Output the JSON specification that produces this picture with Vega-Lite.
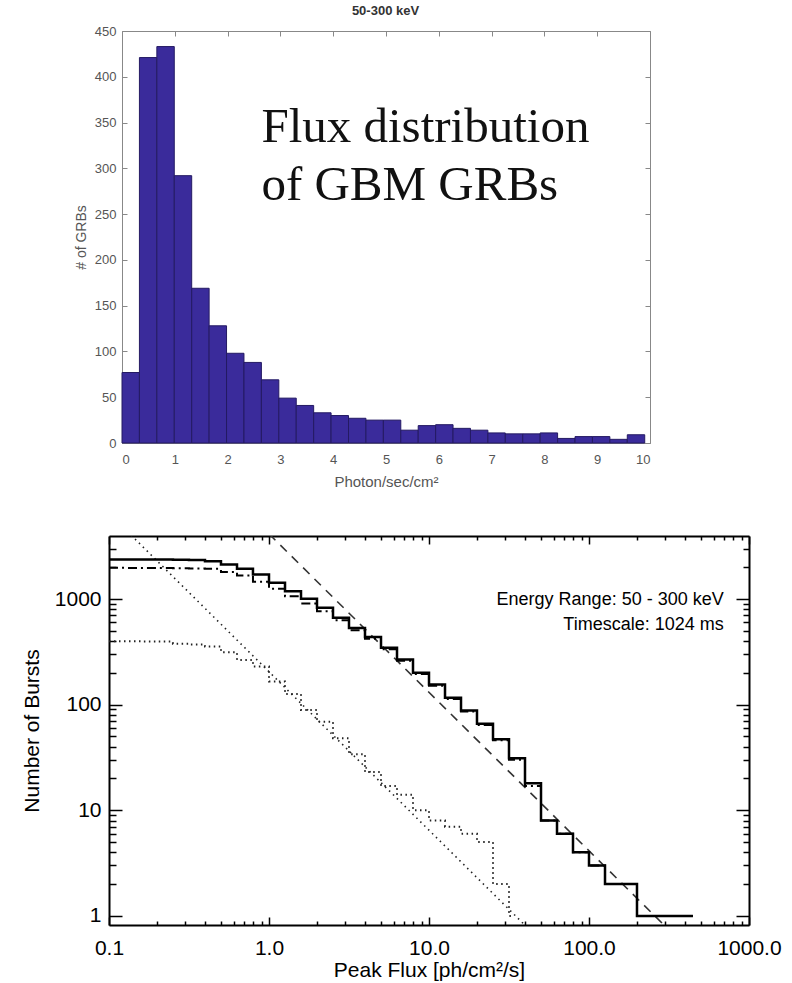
{
  "$schema": "https://vega.github.io/schema/vega-lite/v6.json",
  "padding": {"left": 21, "top": 5, "right": 5, "bottom": 5},
  "config": {"view": {"stroke": null}, "font": "Liberation Sans", "axis": {"grid": false}},
  "spacing": 46,
  "vconcat": [
    {
      "width": 541,
      "height": 412,
      "title": {"text": "50-300 keV", "font": "Liberation Sans", "fontSize": 13, "fontWeight": "bold", "color": "#333333", "dx": 6, "offset": 7},
      "resolve": {"axis": {"x": "independent", "y": "independent"}},
      "layer": [
        {
          "data": {"values": [
            {"lo": 0.00, "hi": 0.33, "count": 77},
            {"lo": 0.33, "hi": 0.66, "count": 421},
            {"lo": 0.66, "hi": 0.99, "count": 433},
            {"lo": 0.99, "hi": 1.32, "count": 292},
            {"lo": 1.32, "hi": 1.65, "count": 169},
            {"lo": 1.65, "hi": 1.98, "count": 128},
            {"lo": 1.98, "hi": 2.31, "count": 98},
            {"lo": 2.31, "hi": 2.64, "count": 88},
            {"lo": 2.64, "hi": 2.97, "count": 69},
            {"lo": 2.97, "hi": 3.30, "count": 49},
            {"lo": 3.30, "hi": 3.63, "count": 41},
            {"lo": 3.63, "hi": 3.96, "count": 33},
            {"lo": 3.96, "hi": 4.29, "count": 30},
            {"lo": 4.29, "hi": 4.62, "count": 27},
            {"lo": 4.62, "hi": 4.95, "count": 25},
            {"lo": 4.95, "hi": 5.28, "count": 25},
            {"lo": 5.28, "hi": 5.61, "count": 14},
            {"lo": 5.61, "hi": 5.94, "count": 19},
            {"lo": 5.94, "hi": 6.27, "count": 20},
            {"lo": 6.27, "hi": 6.60, "count": 16},
            {"lo": 6.60, "hi": 6.93, "count": 14},
            {"lo": 6.93, "hi": 7.26, "count": 11},
            {"lo": 7.26, "hi": 7.59, "count": 10},
            {"lo": 7.59, "hi": 7.92, "count": 10},
            {"lo": 7.92, "hi": 8.25, "count": 11},
            {"lo": 8.25, "hi": 8.58, "count": 5},
            {"lo": 8.58, "hi": 8.91, "count": 7},
            {"lo": 8.91, "hi": 9.24, "count": 7},
            {"lo": 9.24, "hi": 9.57, "count": 4},
            {"lo": 9.57, "hi": 9.90, "count": 9}
          ]},
          "mark": {"type": "rect", "fill": "#3a2b9b", "stroke": "#241a63", "strokeWidth": 1},
          "encoding": {
            "x": {"field": "lo", "type": "quantitative",
              "scale": {"domain": [0, 10], "range": [13, 541], "nice": false, "zero": false},
              "axis": {"orient": "bottom", "values": [0,1,2,3,4,5,6,7,8,9,10], "tickSize": -5, "tickColor": "#888888",
                "domainColor": "#888888", "labelColor": "#555555", "labelFontSize": 13, "labelPadding": 15,
                "title": "Photon/sec/cm²", "titleFontSize": 15, "titleFontWeight": "normal", "titleColor": "#555555", "titlePadding": 8}},
            "x2": {"field": "hi"},
            "y": {"field": "count", "type": "quantitative",
              "scale": {"domain": [0, 450], "nice": false},
              "axis": {"orient": "left", "offset": -13, "values": [0,50,100,150,200,250,300,350,400,450], "tickSize": -5,
                "tickColor": "#888888", "domainColor": "#888888", "labelColor": "#555555", "labelFontSize": 13, "labelPadding": 11,
                "title": "# of GRBs", "titleFontSize": 14, "titleFontWeight": "normal", "titleColor": "#555555", "titlePadding": 6}},
            "y2": {"datum": 0}
          }
        },
        {
          "data": {"values": [
            {"x": 2.64, "y": 329, "t": "Flux distribution"},
            {"x": 2.64, "y": 265.5, "t": "of GBM GRBs"}
          ]},
          "mark": {"type": "text", "align": "left", "baseline": "alphabetic", "font": "Liberation Serif", "fontSize": 49, "color": "#111111"},
          "encoding": {
            "x": {"field": "x", "type": "quantitative",
              "scale": {"domain": [0, 10], "range": [13, 541], "nice": false, "zero": false},
              "axis": {"orient": "top", "values": [0,1,2,3,4,5,6,7,8,9,10], "labels": false, "tickSize": -5,
                "tickColor": "#888888", "domainColor": "#888888", "title": null}},
            "y": {"field": "y", "type": "quantitative",
              "scale": {"domain": [0, 450], "nice": false},
              "axis": {"orient": "right", "values": [0,50,100,150,200,250,300,350,400,450], "labels": false, "tickSize": -5,
                "tickColor": "#888888", "domainColor": "#888888", "title": null}},
            "text": {"field": "t"}
          }
        }
      ]
    },
    {
      "width": 640,
      "height": 389,
      "resolve": {"axis": {"x": "independent", "y": "independent"}},
      "layer": [
        {
          "data": {"values": [{"flux": 0.13, "n": 4373}, {"flux": 40, "n": 0.81}]},
          "mark": {"type": "line", "clip": true, "color": "#222222", "strokeWidth": 1.6, "strokeDash": [1.5, 4]},
          "encoding": {
            "x": {"field": "flux", "type": "quantitative", "scale": {"type": "log", "domain": [0.1, 1000], "nice": false}, "axis": null},
            "y": {"field": "n", "type": "quantitative", "scale": {"type": "log", "domain": [0.82, 3950], "nice": false}, "axis": null}
          }
        },
        {
          "data": {"values": [
            {"flux": 0.1, "n": 398}, {"flux": 0.126, "n": 398}, {"flux": 0.158, "n": 397}, {"flux": 0.2, "n": 396},
            {"flux": 0.251, "n": 378}, {"flux": 0.316, "n": 372}, {"flux": 0.398, "n": 355}, {"flux": 0.501, "n": 314},
            {"flux": 0.631, "n": 265}, {"flux": 0.794, "n": 230}, {"flux": 1.0, "n": 166}, {"flux": 1.259, "n": 126},
            {"flux": 1.585, "n": 89}, {"flux": 1.995, "n": 69}, {"flux": 2.512, "n": 48}, {"flux": 3.162, "n": 34},
            {"flux": 3.981, "n": 23}, {"flux": 5.012, "n": 17}, {"flux": 6.31, "n": 14}, {"flux": 7.943, "n": 10},
            {"flux": 10, "n": 8}, {"flux": 12.59, "n": 7}, {"flux": 15.85, "n": 6}, {"flux": 19.95, "n": 5},
            {"flux": 25.12, "n": 2}, {"flux": 31.62, "n": 1}, {"flux": 33.1, "n": 1}
          ]},
          "mark": {"type": "line", "interpolate": "step-after", "clip": true, "color": "#222222", "strokeWidth": 2, "strokeDash": [1.5, 3.5]},
          "encoding": {
            "x": {"field": "flux", "type": "quantitative", "scale": {"type": "log", "domain": [0.1, 1000], "nice": false},
              "axis": {"orient": "top", "values": [0.1, 1, 10, 100, 1000], "labels": false, "tickSize": -8, "tickWidth": 1.5,
                "tickColor": "black", "domainColor": "black", "domainWidth": 2, "title": null}},
            "y": {"field": "n", "type": "quantitative", "scale": {"type": "log", "domain": [0.82, 3950], "nice": false},
              "axis": {"orient": "right", "values": [1, 10, 100, 1000], "labels": false, "tickSize": -13, "tickWidth": 1.5,
                "tickColor": "black", "domainColor": "black", "domainWidth": 2, "title": null}}
          }
        },
        {
          "data": {"values": [{"flux": 1.0, "n": 4134}, {"flux": 300, "n": 0.7956}]},
          "mark": {"type": "line", "clip": true, "color": "#333333", "strokeWidth": 1.6, "strokeDash": [9, 7]},
          "encoding": {
            "x": {"field": "flux", "type": "quantitative", "scale": {"type": "log", "domain": [0.1, 1000], "nice": false},
              "axis": {"orient": "top", "values": [0.2,0.3,0.4,0.5,0.6,0.7,0.8,0.9,2,3,4,5,6,7,8,9,20,30,40,50,60,70,80,90,200,300,400,500,600,700,800,900],
                "labels": false, "domain": false, "tickSize": -4, "tickWidth": 1.5, "tickColor": "black", "title": null}},
            "y": {"field": "n", "type": "quantitative", "scale": {"type": "log", "domain": [0.82, 3950], "nice": false},
              "axis": {"orient": "right", "values": [2,3,4,5,6,7,8,9,20,30,40,50,60,70,80,90,200,300,400,500,600,700,800,900,2000,3000],
                "labels": false, "domain": false, "tickSize": -6, "tickWidth": 1.5, "tickColor": "black", "title": null}}
          }
        },
        {
          "data": {"values": [
            {"flux": 0.1, "n": 1972}, {"flux": 0.126, "n": 1971}, {"flux": 0.158, "n": 1970}, {"flux": 0.2, "n": 1966},
            {"flux": 0.251, "n": 1960}, {"flux": 0.316, "n": 1948}, {"flux": 0.398, "n": 1932}, {"flux": 0.501, "n": 1803},
            {"flux": 0.631, "n": 1671}, {"flux": 0.794, "n": 1455}, {"flux": 1.0, "n": 1249}, {"flux": 1.259, "n": 1064},
            {"flux": 1.585, "n": 906}, {"flux": 1.995, "n": 766}, {"flux": 2.512, "n": 629}, {"flux": 3.162, "n": 506},
            {"flux": 3.981, "n": 420}, {"flux": 5.012, "n": 335}, {"flux": 6.31, "n": 260}, {"flux": 7.943, "n": 195},
            {"flux": 10, "n": 151}, {"flux": 12.59, "n": 113}, {"flux": 15.85, "n": 86}, {"flux": 19.95, "n": 64},
            {"flux": 25.12, "n": 46}, {"flux": 31.62, "n": 30}, {"flux": 39.81, "n": 17}, {"flux": 50.12, "n": 8},
            {"flux": 63.1, "n": 6}, {"flux": 79.43, "n": 4}, {"flux": 100, "n": 3}, {"flux": 125.9, "n": 2},
            {"flux": 199.5, "n": 1}, {"flux": 446, "n": 1}
          ]},
          "mark": {"type": "line", "interpolate": "step-after", "clip": true, "color": "black", "strokeWidth": 2, "strokeDash": [9, 4, 2, 4]},
          "encoding": {
            "x": {"field": "flux", "type": "quantitative", "scale": {"type": "log", "domain": [0.1, 1000], "nice": false},
              "axis": {"orient": "bottom", "values": [0.2,0.3,0.4,0.5,0.6,0.7,0.8,0.9,2,3,4,5,6,7,8,9,20,30,40,50,60,70,80,90,200,300,400,500,600,700,800,900],
                "labels": false, "domain": false, "tickSize": -4, "tickWidth": 1.5, "tickColor": "black", "title": null}},
            "y": {"field": "n", "type": "quantitative", "scale": {"type": "log", "domain": [0.82, 3950], "nice": false},
              "axis": {"orient": "left", "values": [2,3,4,5,6,7,8,9,20,30,40,50,60,70,80,90,200,300,400,500,600,700,800,900,2000,3000],
                "labels": false, "domain": false, "tickSize": -7, "tickWidth": 1.5, "tickColor": "black", "title": null}}
          }
        },
        {
          "data": {"values": [
            {"flux": 0.1, "n": 2371}, {"flux": 0.126, "n": 2370}, {"flux": 0.158, "n": 2368}, {"flux": 0.2, "n": 2365},
            {"flux": 0.251, "n": 2358}, {"flux": 0.316, "n": 2340}, {"flux": 0.398, "n": 2282}, {"flux": 0.501, "n": 2124},
            {"flux": 0.631, "n": 1932}, {"flux": 0.794, "n": 1707}, {"flux": 1.0, "n": 1425}, {"flux": 1.259, "n": 1186},
            {"flux": 1.585, "n": 1005}, {"flux": 1.995, "n": 826}, {"flux": 2.512, "n": 664}, {"flux": 3.162, "n": 533},
            {"flux": 3.981, "n": 438}, {"flux": 5.012, "n": 345}, {"flux": 6.31, "n": 267}, {"flux": 7.943, "n": 200},
            {"flux": 10, "n": 155}, {"flux": 12.59, "n": 116}, {"flux": 15.85, "n": 88}, {"flux": 19.95, "n": 66},
            {"flux": 25.12, "n": 47}, {"flux": 31.62, "n": 31}, {"flux": 39.81, "n": 18}, {"flux": 50.12, "n": 8},
            {"flux": 63.1, "n": 6}, {"flux": 79.43, "n": 4}, {"flux": 100, "n": 3}, {"flux": 125.9, "n": 2},
            {"flux": 199.5, "n": 1}, {"flux": 446, "n": 1}
          ]},
          "mark": {"type": "line", "interpolate": "step-after", "clip": true, "color": "black", "strokeWidth": 2.5},
          "encoding": {
            "x": {"field": "flux", "type": "quantitative", "scale": {"type": "log", "domain": [0.1, 1000], "nice": false},
              "axis": {"orient": "bottom", "values": [0.1, 1, 10, 100, 1000], "format": ".1f", "tickSize": -8, "tickWidth": 1.5,
                "tickColor": "black", "domainColor": "black", "domainWidth": 2, "labelColor": "black", "labelFontSize": 21,
                "labelPadding": 20, "labelFlush": false, "labelOverlap": false,
                "title": "Peak Flux [ph/cm²/s]", "titleFontSize": 21, "titleFontWeight": "normal", "titleColor": "black", "titlePadding": 1}},
            "y": {"field": "n", "type": "quantitative", "scale": {"type": "log", "domain": [0.82, 3950], "nice": false},
              "axis": {"orient": "left", "values": [1, 10, 100, 1000], "format": "d", "tickSize": -13, "tickWidth": 1.5,
                "tickColor": "black", "domainColor": "black", "domainWidth": 2, "labelColor": "black", "labelFontSize": 21,
                "labelPadding": 21, "labelOverlap": false,
                "title": "Number of Bursts", "titleFontSize": 21, "titleFontWeight": "normal", "titleColor": "black", "titlePadding": 12}}
          }
        },
        {
          "data": {"values": [
            {"flux": 695, "n": 887, "t": "Energy Range: 50 - 300 keV"},
            {"flux": 695, "n": 506, "t": "Timescale: 1024 ms"}
          ]},
          "mark": {"type": "text", "align": "right", "baseline": "alphabetic", "font": "Liberation Sans", "fontSize": 18, "color": "black"},
          "encoding": {
            "x": {"field": "flux", "type": "quantitative", "scale": {"type": "log", "domain": [0.1, 1000], "nice": false}, "axis": null},
            "y": {"field": "n", "type": "quantitative", "scale": {"type": "log", "domain": [0.82, 3950], "nice": false}, "axis": null},
            "text": {"field": "t"}
          }
        }
      ]
    }
  ]
}
